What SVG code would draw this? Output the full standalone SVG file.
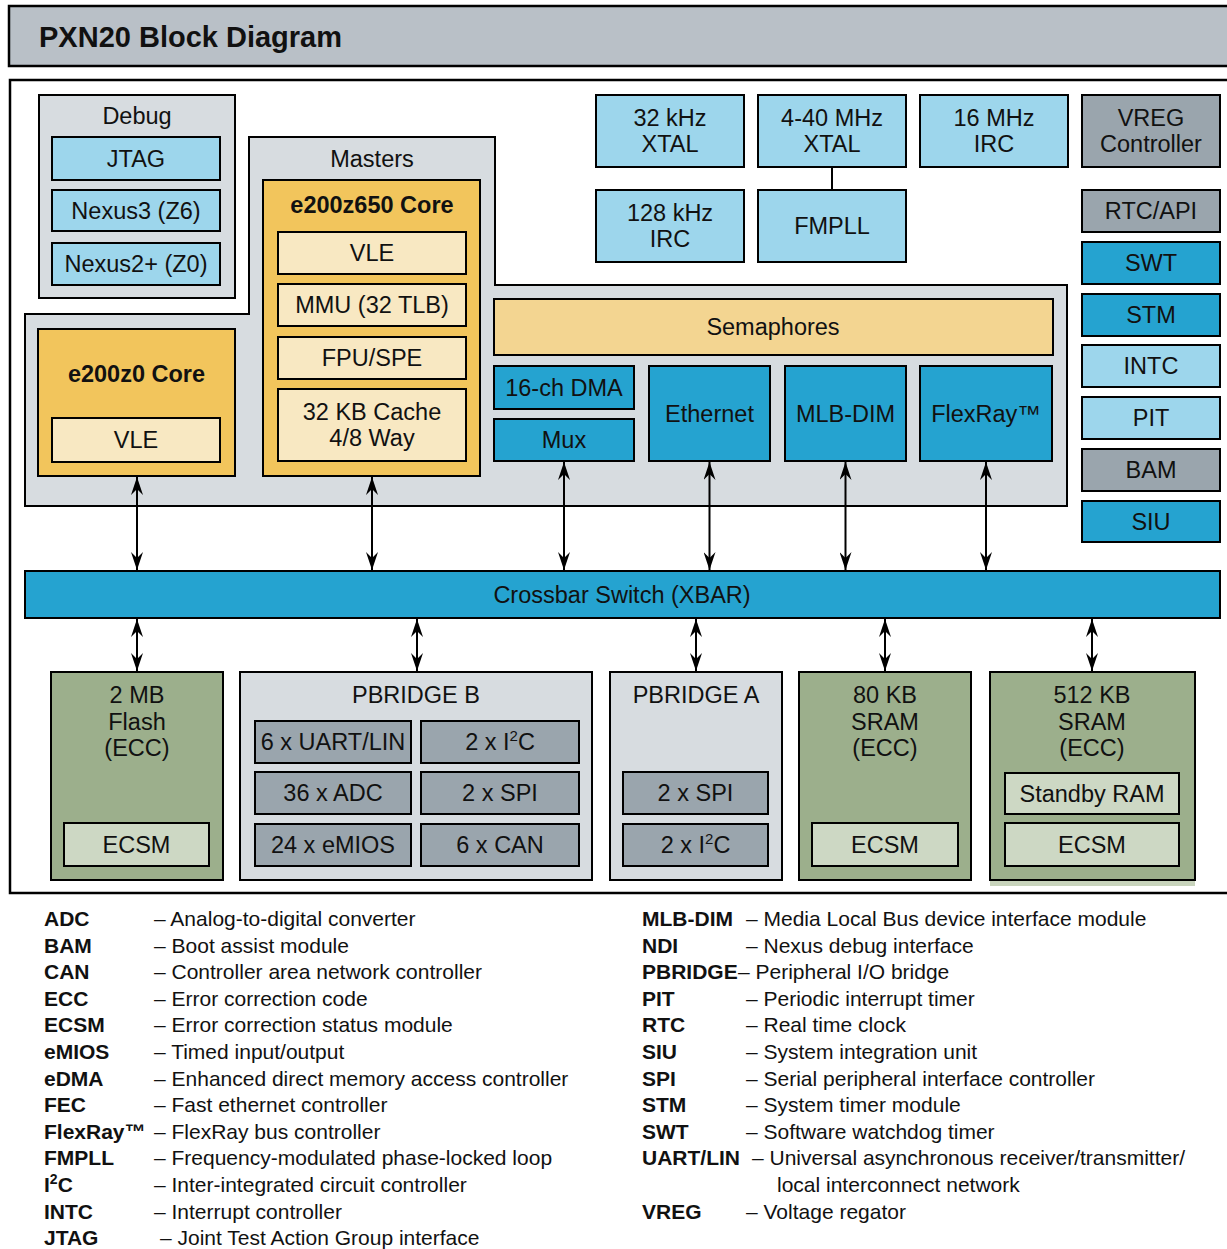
<svg xmlns="http://www.w3.org/2000/svg" width="1227" height="1249" viewBox="0 0 1227 1249">
<style>
.b{stroke:#000;stroke-width:2}
.lb{fill:#9dd6ec}.mb{fill:#25a3d0}.gr{fill:#9aa5ad}.or{fill:#f2c55c}.cr{fill:#f8e8c2}
.se{fill:#f3d591}.gn{fill:#9caf8c}.lg{fill:#cdd8c4}.pb{fill:#d7dce0}
text{font-family:"Liberation Sans",Arial,Helvetica,sans-serif;fill:#111}
.t{font-size:23.5px;text-anchor:middle}
.tb{font-size:23.5px;text-anchor:middle;font-weight:bold}
.lk{font-size:21px;font-weight:bold}
.ld{font-size:21px}
.cn{stroke:#000;stroke-width:2;fill:none}
</style>
<defs>
<marker id="ah" viewBox="-18 -6 18 12" refX="0" refY="0" markerWidth="18" markerHeight="12" markerUnits="userSpaceOnUse" orient="auto-start-reverse">
<path d="M0,0 L-18,-6 L-12,0 L-18,6 Z" fill="#000"/>
</marker>
</defs>
<rect id="background" x="0" y="0" width="1227" height="1249" fill="#fff"/>
<g id="title">
<rect x="9" y="6" width="1230" height="60" fill="#b9c0c7" stroke="#000" stroke-width="2.5"/>
<text x="39" y="47" style="font-size:29px;font-weight:bold">PXN20 Block Diagram</text>
</g>
<path id="frame" d="M1232,80 H10 V893 H1232" fill="none" stroke="#000" stroke-width="2.5"/>

<g id="debug">
<rect class="pb b" x="39" y="95" width="196" height="203"/>
<text class="t" x="137" y="124">Debug</text>
</g>
<g id="jtag"><rect class="lb b" x="52" y="137" width="168" height="43"/><text class="t" x="136" y="166.5">JTAG</text></g>
<g id="nexus3"><rect class="lb b" x="52" y="190" width="168" height="41"/><text class="t" x="136" y="218.5">Nexus3 (Z6)</text></g>
<g id="nexus2"><rect class="lb b" x="52" y="243" width="168" height="42"/><text class="t" x="136" y="272">Nexus2+ (Z0)</text></g>

<g id="masters">
<polygon class="pb b" points="25,314 249,314 249,137 495,137 495,285 1067,285 1067,506 25,506"/>
<text class="t" x="372" y="167">Masters</text>
</g>
<g id="e200z650">
<rect class="or b" x="263" y="180" width="217" height="296"/>
<text class="tb" x="372" y="213">e200z650 Core</text>
<rect class="cr b" x="278" y="232" width="188" height="42"/><text class="t" x="372" y="261">VLE</text>
<rect class="cr b" x="278" y="284" width="188" height="42"/><text class="t" x="372" y="313">MMU (32 TLB)</text>
<rect class="cr b" x="278" y="337" width="188" height="42"/><text class="t" x="372" y="366">FPU/SPE</text>
<rect class="cr b" x="278" y="389" width="188" height="72"/><text class="t" x="372" y="420">32 KB Cache</text><text class="t" x="372" y="446">4/8 Way</text>
</g>
<g id="e200z0">
<rect class="or b" x="38" y="329" width="197" height="147"/>
<text class="tb" x="136.5" y="382">e200z0 Core</text>
<rect class="cr b" x="52" y="418" width="168" height="44"/><text class="t" x="136" y="448">VLE</text>
</g>
<g id="semaphores"><rect class="se b" x="494" y="299" width="559" height="56"/><text class="t" x="773" y="335">Semaphores</text></g>
<g id="dma"><rect class="mb b" x="494" y="366" width="140" height="43"/><text class="t" x="564" y="395.5">16-ch DMA</text></g>
<g id="mux"><rect class="mb b" x="494" y="419" width="140" height="42"/><text class="t" x="564" y="448">Mux</text></g>
<g id="ethernet"><rect class="mb b" x="649" y="366" width="121" height="95"/><text class="t" x="709.5" y="421.5">Ethernet</text></g>
<g id="mlbdim"><rect class="mb b" x="785" y="366" width="121" height="95"/><text class="t" x="845.5" y="421.5">MLB-DIM</text></g>
<g id="flexray"><rect class="mb b" x="920" y="366" width="132" height="95"/><text class="t" x="986" y="421.5">FlexRay™</text></g>

<g id="xtal32"><rect class="lb b" x="596" y="95" width="148" height="72"/><text class="t" x="670" y="126">32 kHz</text><text class="t" x="670" y="152">XTAL</text></g>
<g id="xtal440"><rect class="lb b" x="758" y="95" width="148" height="72"/><text class="t" x="832" y="126">4-40 MHz</text><text class="t" x="832" y="152">XTAL</text></g>
<g id="irc16"><rect class="lb b" x="920" y="95" width="148" height="72"/><text class="t" x="994" y="126">16 MHz</text><text class="t" x="994" y="152">IRC</text></g>
<g id="irc128"><rect class="lb b" x="596" y="190" width="148" height="72"/><text class="t" x="670" y="221">128 kHz</text><text class="t" x="670" y="247">IRC</text></g>
<g id="fmpll"><rect class="lb b" x="758" y="190" width="148" height="72"/><text class="t" x="832" y="234">FMPLL</text></g>

<g id="vreg"><rect class="gr b" x="1082" y="95" width="138" height="72"/><text class="t" x="1151" y="126">VREG</text><text class="t" x="1151" y="152">Controller</text></g>
<g id="rtc"><rect class="gr b" x="1082" y="190" width="138" height="42"/><text class="t" x="1151" y="219">RTC/API</text></g>
<g id="swt"><rect class="mb b" x="1082" y="242" width="138" height="42"/><text class="t" x="1151" y="271">SWT</text></g>
<g id="stm"><rect class="mb b" x="1082" y="294" width="138" height="42"/><text class="t" x="1151" y="323">STM</text></g>
<g id="intc"><rect class="lb b" x="1082" y="345" width="138" height="42"/><text class="t" x="1151" y="374">INTC</text></g>
<g id="pit"><rect class="lb b" x="1082" y="397" width="138" height="42"/><text class="t" x="1151" y="426">PIT</text></g>
<g id="bam"><rect class="gr b" x="1082" y="449" width="138" height="42"/><text class="t" x="1151" y="478">BAM</text></g>
<g id="siu"><rect class="mb b" x="1082" y="501" width="138" height="41"/><text class="t" x="1151" y="529.5">SIU</text></g>

<g id="xbar"><rect class="mb b" x="25" y="571" width="1195" height="47"/><text class="t" x="622" y="602.5">Crossbar Switch (XBAR)</text></g>

<g id="flash">
<rect class="gn b" x="51" y="672" width="172" height="208"/>
<text class="t" x="137" y="703">2 MB</text><text class="t" x="137" y="729.5">Flash</text><text class="t" x="137" y="756">(ECC)</text>
<rect class="lg b" x="64" y="823" width="145" height="43"/><text class="t" x="136.5" y="852.5">ECSM</text>
</g>
<g id="pbridgeb">
<rect class="pb b" x="240" y="672" width="352" height="208"/>
<text class="t" x="416" y="703">PBRIDGE B</text>
<rect class="gr b" x="255" y="721" width="156" height="42"/><text class="t" x="333" y="750">6 x UART/LIN</text>
<rect class="gr b" x="421" y="721" width="158" height="42"/><text class="t" x="500" y="750">2 x I<tspan dy="-9" style="font-size:15px">2</tspan><tspan dy="9">C</tspan></text>
<rect class="gr b" x="255" y="772" width="156" height="42"/><text class="t" x="333" y="801">36 x ADC</text>
<rect class="gr b" x="421" y="772" width="158" height="42"/><text class="t" x="500" y="801">2 x SPI</text>
<rect class="gr b" x="255" y="824" width="156" height="42"/><text class="t" x="333" y="853">24 x eMIOS</text>
<rect class="gr b" x="421" y="824" width="158" height="42"/><text class="t" x="500" y="853">6 x CAN</text>
</g>
<g id="pbridgea">
<rect class="pb b" x="610" y="672" width="172" height="208"/>
<text class="t" x="696" y="703">PBRIDGE A</text>
<rect class="gr b" x="623" y="772" width="145" height="42"/><text class="t" x="695.5" y="801">2 x SPI</text>
<rect class="gr b" x="623" y="824" width="145" height="42"/><text class="t" x="695.5" y="853">2 x I<tspan dy="-9" style="font-size:15px">2</tspan><tspan dy="9">C</tspan></text>
</g>
<g id="sram80">
<rect class="gn b" x="799" y="672" width="172" height="208"/>
<text class="t" x="885" y="703">80 KB</text><text class="t" x="885" y="729.5">SRAM</text><text class="t" x="885" y="756">(ECC)</text>
<rect class="lg b" x="812" y="823" width="146" height="43"/><text class="t" x="885" y="852.5">ECSM</text>
</g>
<g id="sram512">
<rect x="990" y="880" width="205" height="6" fill="#c8d4bc"/>
<rect class="gn b" x="990" y="672" width="205" height="208"/>
<text class="t" x="1092" y="703">512 KB</text><text class="t" x="1092" y="729.5">SRAM</text><text class="t" x="1092" y="756">(ECC)</text>
<rect class="lg b" x="1005" y="773" width="174" height="41"/><text class="t" x="1092" y="802">Standby RAM</text>
<rect class="lg b" x="1005" y="823" width="174" height="43"/><text class="t" x="1092" y="852.5">ECSM</text>
</g>

<g id="connectors">
<line class="cn" x1="832" y1="167" x2="832" y2="190"/>
<line class="cn" x1="137" y1="477" x2="137" y2="570" marker-start="url(#ah)" marker-end="url(#ah)"/>
<line class="cn" x1="372" y1="477" x2="372" y2="570" marker-start="url(#ah)" marker-end="url(#ah)"/>
<line class="cn" x1="564" y1="462" x2="564" y2="570" marker-start="url(#ah)" marker-end="url(#ah)"/>
<line class="cn" x1="709.5" y1="462" x2="709.5" y2="570" marker-start="url(#ah)" marker-end="url(#ah)"/>
<line class="cn" x1="845.5" y1="462" x2="845.5" y2="570" marker-start="url(#ah)" marker-end="url(#ah)"/>
<line class="cn" x1="986" y1="462" x2="986" y2="570" marker-start="url(#ah)" marker-end="url(#ah)"/>
<line class="cn" x1="137" y1="619" x2="137" y2="671" marker-start="url(#ah)" marker-end="url(#ah)"/>
<line class="cn" x1="417" y1="619" x2="417" y2="671" marker-start="url(#ah)" marker-end="url(#ah)"/>
<line class="cn" x1="696" y1="619" x2="696" y2="671" marker-start="url(#ah)" marker-end="url(#ah)"/>
<line class="cn" x1="885" y1="619" x2="885" y2="671" marker-start="url(#ah)" marker-end="url(#ah)"/>
<line class="cn" x1="1092" y1="619" x2="1092" y2="671" marker-start="url(#ah)" marker-end="url(#ah)"/>
</g>

<g id="legend">
<text class="lk" x="44" y="926">ADC</text><text class="ld" x="154" y="926">– Analog-to-digital converter</text>
<text class="lk" x="44" y="952.6">BAM</text><text class="ld" x="154" y="952.6">– Boot assist module</text>
<text class="lk" x="44" y="979.2">CAN</text><text class="ld" x="154" y="979.2">– Controller area network controller</text>
<text class="lk" x="44" y="1005.8">ECC</text><text class="ld" x="154" y="1005.8">– Error correction code</text>
<text class="lk" x="44" y="1032.4">ECSM</text><text class="ld" x="154" y="1032.4">– Error correction status module</text>
<text class="lk" x="44" y="1059">eMIOS</text><text class="ld" x="154" y="1059">– Timed input/output</text>
<text class="lk" x="44" y="1085.6">eDMA</text><text class="ld" x="154" y="1085.6">– Enhanced direct memory access controller</text>
<text class="lk" x="44" y="1112.2">FEC</text><text class="ld" x="154" y="1112.2">– Fast ethernet controller</text>
<text class="lk" x="44" y="1138.8">FlexRay™</text><text class="ld" x="154" y="1138.8">– FlexRay bus controller</text>
<text class="lk" x="44" y="1165.4">FMPLL</text><text class="ld" x="154" y="1165.4">– Frequency-modulated phase-locked loop</text>
<text class="lk" x="44" y="1192">I<tspan dy="-8" style="font-size:14px">2</tspan><tspan dy="8">C</tspan></text><text class="ld" x="154" y="1192">– Inter-integrated circuit controller</text>
<text class="lk" x="44" y="1218.6">INTC</text><text class="ld" x="154" y="1218.6">– Interrupt controller</text>
<text class="lk" x="44" y="1245.2">JTAG</text><text class="ld" x="160" y="1245.2">– Joint Test Action Group interface</text>

<text class="lk" x="642" y="926">MLB-DIM</text><text class="ld" x="746" y="926">– Media Local Bus device interface module</text>
<text class="lk" x="642" y="952.6">NDI</text><text class="ld" x="746" y="952.6">– Nexus debug interface</text>
<text class="lk" x="642" y="979.2">PBRIDGE</text><text class="ld" x="738" y="979.2">– Peripheral I/O bridge</text>
<text class="lk" x="642" y="1005.8">PIT</text><text class="ld" x="746" y="1005.8">– Periodic interrupt timer</text>
<text class="lk" x="642" y="1032.4">RTC</text><text class="ld" x="746" y="1032.4">– Real time clock</text>
<text class="lk" x="642" y="1059">SIU</text><text class="ld" x="746" y="1059">– System integration unit</text>
<text class="lk" x="642" y="1085.6">SPI</text><text class="ld" x="746" y="1085.6">– Serial peripheral interface controller</text>
<text class="lk" x="642" y="1112.2">STM</text><text class="ld" x="746" y="1112.2">– System timer module</text>
<text class="lk" x="642" y="1138.8">SWT</text><text class="ld" x="746" y="1138.8">– Software watchdog timer</text>
<text class="lk" x="642" y="1165.4">UART/LIN</text><text class="ld" x="752" y="1165.4">– Universal asynchronous receiver/transmitter/</text>
<text class="ld" x="777" y="1192">local interconnect network</text>
<text class="lk" x="642" y="1218.6">VREG</text><text class="ld" x="746" y="1218.6">– Voltage regator</text>
</g>
</svg>
